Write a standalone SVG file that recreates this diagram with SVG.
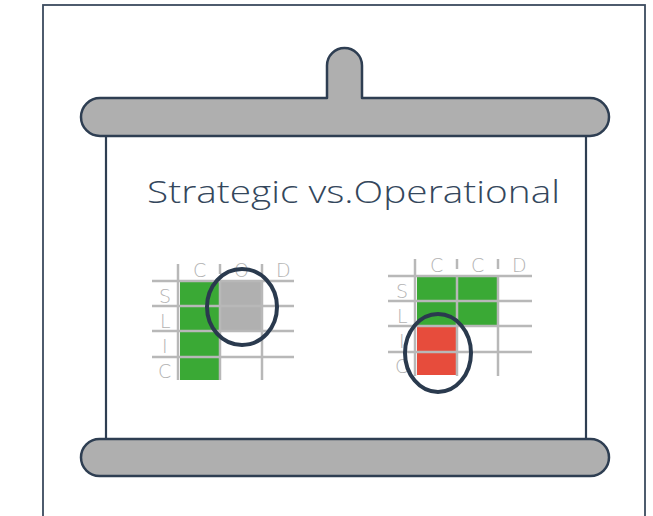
<svg xmlns="http://www.w3.org/2000/svg" width="653" height="516" viewBox="0 0 653 516">
  <style>
    .frame { fill: #ffffff; stroke: #3b4b5e; stroke-width: 1.8; }
    .bar { fill: #afafaf; stroke: #2e3e52; stroke-width: 2.5; stroke-linejoin: round; }
    .edge { fill: none; stroke: #2e3e52; stroke-width: 2.2; }
    .grid { stroke: #b8b8b8; stroke-width: 2.5; fill: none; }
    .ring { fill: none; stroke: #2a3a4e; stroke-width: 4; }
    .lbl { font-family: "DejaVu Sans", sans-serif; font-size: 19px; fill: #b3b3b3; font-weight: 200; }
    .title { font-family: "Open Sans", "Lato", sans-serif; font-weight: 300; font-size: 31px; fill: #34475c; }
  </style>

  <!-- outer frame -->
  <rect class="frame" x="43" y="5" width="602" height="530"/>

  <!-- projector screen -->
  <g id="screen">
    <rect x="106" y="130" width="480" height="314" fill="#ffffff"/>
    <line class="edge" x1="106" y1="134" x2="106" y2="442"/>
    <line class="edge" x1="586" y1="134" x2="586" y2="442"/>
    <path class="bar" d="M100,98 H327 V65.5 A17.5,17.5 0 0 1 362,65.5 V98 H590 A19,19 0 0 1 590,136 H100 A19,19 0 0 1 100,98 Z"/>
    <rect class="bar" x="81" y="439" width="528" height="37" rx="18.5"/>
  </g>

  <g id="title">
    <text class="title" x="147" y="203" textLength="413" lengthAdjust="spacingAndGlyphs">Strategic vs.Operational</text>
  </g>

  <!-- strategic matrix -->
  <g id="matrix-strategic">
    <rect x="180" y="281" width="39" height="99" fill="#3aa935"/>
    <rect x="219" y="281" width="43" height="50" fill="#b0b0b0"/>
    <g class="grid">
      <line x1="152" y1="281" x2="294" y2="281"/>
      <line x1="152" y1="306" x2="294" y2="306"/>
      <line x1="152" y1="331" x2="294" y2="331"/>
      <line x1="152" y1="357" x2="294" y2="357"/>
      <line x1="178" y1="264" x2="178" y2="380"/>
      <line x1="220" y1="264" x2="220" y2="274"/>
      <line x1="220" y1="281" x2="220" y2="380"/>
      <line x1="262" y1="264" x2="262" y2="274"/>
      <line x1="262" y1="281" x2="262" y2="380"/>
    </g>
    <text class="lbl" x="193" y="277">C</text>
    <text class="lbl" x="234" y="277">O</text>
    <text class="lbl" x="276" y="277">D</text>
    <text class="lbl" x="159" y="303">S</text>
    <text class="lbl" x="160" y="328">L</text>
    <text class="lbl" x="162" y="353">I</text>
    <text class="lbl" x="158" y="378">C</text>
    <ellipse class="ring" cx="242" cy="307" rx="35" ry="38"/>
  </g>

  <!-- operational matrix -->
  <g id="matrix-operational">
    <rect x="417" y="276" width="81" height="50" fill="#3aa935"/>
    <rect x="417" y="326" width="40" height="49" fill="#e74c3c"/>
    <g class="grid">
      <line x1="388" y1="276" x2="532" y2="276"/>
      <line x1="388" y1="301" x2="532" y2="301"/>
      <line x1="388" y1="326" x2="532" y2="326"/>
      <line x1="388" y1="352" x2="532" y2="352"/>
      <line x1="415" y1="259" x2="415" y2="376"/>
      <line x1="457" y1="259" x2="457" y2="269"/>
      <line x1="457" y1="276" x2="457" y2="376"/>
      <line x1="498" y1="259" x2="498" y2="269"/>
      <line x1="498" y1="276" x2="498" y2="376"/>
    </g>
    <text class="lbl" x="430" y="272">C</text>
    <text class="lbl" x="471" y="272">C</text>
    <text class="lbl" x="512" y="272">D</text>
    <text class="lbl" x="396" y="298">S</text>
    <text class="lbl" x="397" y="323">L</text>
    <text class="lbl" x="399" y="348">I</text>
    <text class="lbl" x="395" y="373">C</text>
    <ellipse class="ring" cx="438" cy="353" rx="33" ry="39"/>
  </g>
</svg>
